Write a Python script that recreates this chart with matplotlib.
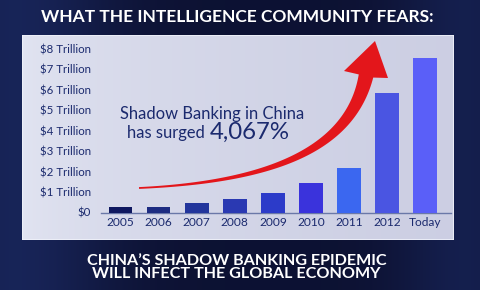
import matplotlib
matplotlib.use("Agg")
import matplotlib.pyplot as plt
import numpy as np
from matplotlib.patches import Polygon, Rectangle

# ---------------------------------------------------------------------------
# Data
# ---------------------------------------------------------------------------
YEARS = ["2005", "2006", "2007", "2008", "2009", "2010", "2011", "2012", "Today"]
VALUES = [0.26, 0.28, 0.46, 0.64, 0.96, 1.45, 2.17, 5.87, 7.58]   # $ trillion
Y_TICKS = [0, 1, 2, 3, 4, 5, 6, 7, 8]
Y_LABELS = ["$0"] + [f"${v} Trillion" for v in Y_TICKS[1:]]

TITLE = "WHAT THE INTELLIGENCE COMMUNITY FEARS:"
FOOTER = "CHINA\u2019S SHADOW BANKING EPIDEMIC\nWILL INFECT THE GLOBAL ECONOMY"

BAR_COLORS = ["#0f1860", "#1d2c82", "#22359c", "#2a39b2", "#2c3bc9",
              "#3a33dc", "#3b67f0", "#4a55e2", "#5a5ff8"]
C_TEXT = "#1b2a6e"
C_RED = "#e3161b"
FONT = "Lato"

W, H = 480, 290
fig = plt.figure(figsize=(W / 100, H / 100), dpi=100)
fig.patch.set_facecolor("#0e1338")

# ── dark background with a faint blue glow at the sides ─────────────────────
bg = fig.add_axes([0, 0, 1, 1])
gx = np.linspace(0, 1, 240)
gy = np.linspace(0, 1, 145)
GX, GY = np.meshgrid(gx, gy)
glow = np.exp(-((GX - 0.03) ** 2) / 0.04) * 0.55 + np.exp(-((GX - 0.97) ** 2) / 0.02) * 0.4
base = np.array([0.05, 0.07, 0.20])
hi = np.array([0.13, 0.20, 0.46])
img = base[None, None, :] + (hi - base)[None, None, :] * glow[..., None]
bg.imshow(np.clip(img, 0, 1), extent=[0, 1, 0, 1], aspect="auto", interpolation="bilinear")
bg.set_xlim(0, 1); bg.set_ylim(0, 1)
bg.axis("off")

# ── light panel ─────────────────────────────────────────────────────────────
px0, py0, px1, py1 = 22, 35, 454, 240
panel = fig.add_axes([px0 / W, (H - py1) / H, (px1 - px0) / W, (py1 - py0) / H])
pg = np.linspace(0, 1, 200)
pc0 = np.array([0.89, 0.90, 0.95])
pc1 = np.array([0.80, 0.81, 0.89])
prow = pc0[None, :] + (pc1 - pc0)[None, :] * np.sqrt(pg)[:, None]
panel.imshow(prow[None, :, :], extent=[0, 1, 0, 1], aspect="auto", interpolation="bilinear")
panel.add_patch(Rectangle((0, 0), 1, 1, fill=False, ec="#f0f2fa", lw=1.2,
                          transform=panel.transAxes))
panel.set_xlim(0, 1); panel.set_ylim(0, 1)
panel.axis("off")

# ── bar chart ───────────────────────────────────────────────────────────────
y0_px, px_per_unit = 212.5, 20.44
ylim_top = 8.5
ax_left, ax_right = 101, 451
ax = fig.add_axes([ax_left / W, (H - y0_px) / H,
                   (ax_right - ax_left) / W, ylim_top * px_per_unit / H])
ax.patch.set_alpha(0)
x = np.arange(len(YEARS))
ax.bar(x, VALUES, width=0.62, color=BAR_COLORS, zorder=3)
step = 38.1
ax.set_xlim(-(120.5 - ax_left) / step, (ax_right - 120.5) / step)
ax.set_ylim(0, ylim_top)
ax.set_xticks(x)
ax.set_xticklabels(YEARS, fontsize=8.6, color=C_TEXT, family=FONT)
ax.set_yticks(Y_TICKS)
ax.set_yticklabels(Y_LABELS, fontsize=8.3, color=C_TEXT, family=FONT)
ax.tick_params(axis="x", length=0, pad=3)
ax.tick_params(axis="y", length=0, pad=7)
for s in ("top", "right", "left"):
    ax.spines[s].set_visible(False)
ax.spines["bottom"].set_color("#6a78a8")
ax.spines["bottom"].set_linewidth(1.0)

# ── curved red arrow (pixel coords, top-left origin) ────────────────────────
P0, P1, P2, P3 = map(np.array, [(139, 188), (270, 182), (350, 150), (366, 76)])
t = np.linspace(0, 1, 80)[:, None]
curve = ((1 - t) ** 3) * P0 + 3 * ((1 - t) ** 2) * t * P1 + 3 * (1 - t) * t ** 2 * P2 + t ** 3 * P3
deriv = 3 * ((1 - t) ** 2) * (P1 - P0) + 6 * (1 - t) * t * (P2 - P1) + 3 * t ** 2 * (P3 - P2)
tang = deriv / np.linalg.norm(deriv, axis=1, keepdims=True)
norm = np.column_stack([-tang[:, 1], tang[:, 0]])
width = 1.8 + 13.0 * t[:, 0] ** 1.5
side_a = curve + norm * width[:, None] / 2
side_b = curve - norm * width[:, None] / 2
head_l = np.array([344, 71.0])
head_r = np.array([388, 78.0])
tip = np.array([375, 41.0])
# order head corners so they continue each side of the shaft
if np.linalg.norm(side_a[-1] - head_l) > np.linalg.norm(side_a[-1] - head_r):
    head_l, head_r = head_r, head_l
poly_px = np.vstack([side_a, head_l, tip, head_r, side_b[::-1]])
poly_fig = np.column_stack([poly_px[:, 0] / W, (H - poly_px[:, 1]) / H])
fig.add_artist(Polygon(poly_fig, closed=True, transform=fig.transFigure,
                       fc=C_RED, ec="none", zorder=10))

# ── annotation text ─────────────────────────────────────────────────────────
fig.text(120 / W, (H - 114) / H, "Shadow Banking in China", fontsize=11.9,
         color=C_TEXT, family=FONT, ha="left", va="center")
fig.text(127 / W, (H - 133) / H, "has surged", fontsize=11.9,
         color=C_TEXT, family=FONT, ha="left", va="center")
fig.text(210 / W, (H - 132) / H, "4,067%", fontsize=17.3, color=C_TEXT,
         family=FONT, ha="left", va="center")

# ── titles ──────────────────────────────────────────────────────────────────
fig.text(0.5 * (37 + 437) / W, (H - 17) / H, TITLE, fontsize=12.5, color="white",
         family=FONT, fontweight="bold", ha="center", va="center")
fig.text(0.5 * (80 + 393) / W, (H - 267.5) / H, FOOTER, fontsize=11.6, color="white",
         family=FONT, fontweight="bold", ha="center", va="center", linespacing=0.92)

fig.savefig("out.png", dpi=100, facecolor=fig.get_facecolor())
